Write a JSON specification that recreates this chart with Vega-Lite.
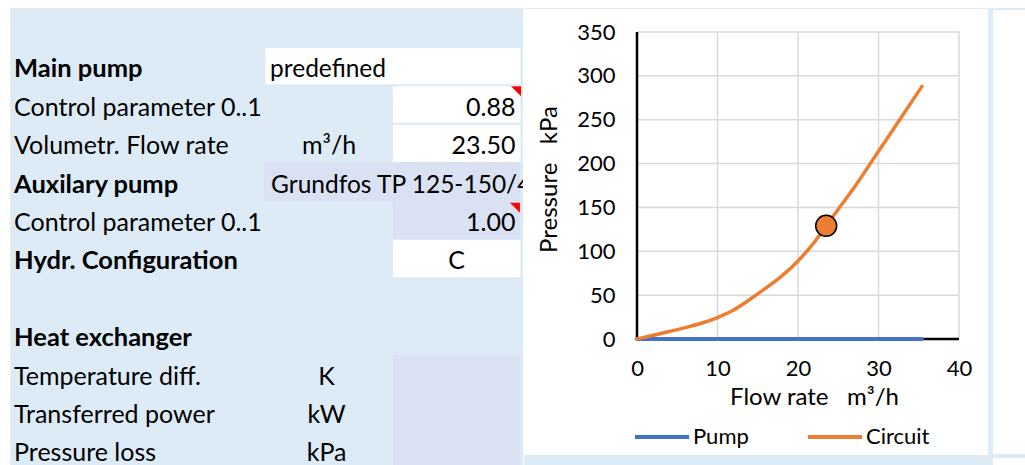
{
  "$schema": "https://vega.github.io/schema/vega-lite/v6.json",
  "background": "white",
  "padding": 0,
  "spacing": 0,
  "config": {"view": {"stroke": null}, "font": "Lato", "concat": {"spacing": 0}},
  "resolve": {"scale": {"color": "independent", "fill": "independent"}, "legend": {"color": "independent", "fill": "independent"}},
  "datasets": {
    "cells": [
      {"kind": "page", "c": -0.08, "c2": 4.02, "r": -0.221, "r2": 11.888},
      {"kind": "sheet", "c": 0, "c2": 4.02, "r": -0.039, "r2": 11.888},
      {"kind": "input", "c": 2.0, "c2": 4.0, "r": 1.0, "r2": 1.95},
      {"kind": "input", "c": 3.0, "c2": 4.0, "r": 2.0, "r2": 2.95},
      {"kind": "input", "c": 3.0, "c2": 4.0, "r": 3.0, "r2": 3.97},
      {"kind": "choice", "c": 1.99, "c2": 4.0, "r": 3.98, "r2": 5.0},
      {"kind": "choice", "c": 3.0, "c2": 4.0, "r": 5.0, "r2": 5.97},
      {"kind": "input", "c": 3.0, "c2": 4.0, "r": 6.0, "r2": 6.97},
      {"kind": "choice", "c": 3.0, "c2": 4.0, "r": 9.0, "r2": 11.888}
    ],
    "texts": [
      {"text": "Main pump", "c": 0.03, "r": 1.766, "role": "head"},
      {"text": "predefined", "c": 2.037, "r": 1.766, "role": "name"},
      {"text": "Control parameter 0..1", "c": 0.03, "r": 2.766, "role": "label"},
      {"text": "0.88", "c": 3.961, "r": 2.766, "role": "num"},
      {"text": "Volumetr. Flow rate", "c": 0.03, "r": 3.766, "role": "label"},
      {"text": "m³/h", "c": 2.5, "r": 3.766, "role": "unit"},
      {"text": "23.50", "c": 3.961, "r": 3.766, "role": "num"},
      {"text": "Auxilary pump", "c": 0.03, "r": 4.766, "role": "head"},
      {"text": "Grundfos TP 125-150/4", "c": 2.045, "r": 4.766, "role": "name"},
      {"text": "Control parameter 0..1", "c": 0.03, "r": 5.766, "role": "label"},
      {"text": "1.00", "c": 3.961, "r": 5.766, "role": "num"},
      {"text": "Hydr. Configuration", "c": 0.03, "r": 6.766, "role": "head"},
      {"text": "C", "c": 3.5, "r": 6.766, "role": "code"},
      {"text": "Heat exchanger", "c": 0.03, "r": 8.766, "role": "head"},
      {"text": "Temperature diff.", "c": 0.03, "r": 9.766, "role": "label"},
      {"text": "K", "c": 2.48, "r": 9.766, "role": "unit"},
      {"text": "Transferred power", "c": 0.03, "r": 10.766, "role": "label"},
      {"text": "kW", "c": 2.48, "r": 10.766, "role": "unit"},
      {"text": "Pressure loss", "c": 0.03, "r": 11.766, "role": "label"},
      {"text": "kPa", "c": 2.48, "r": 11.766, "role": "unit"}
    ],
    "comments": [
      {"c": 3.965, "r": 2.13},
      {"c": 3.957, "r": 5.16}
    ],
    "frame": [
      {"kind": "page", "flow": -14.04, "flow2": 48.32, "pressure": -144.8, "pressure2": 385.4},
      {"kind": "sheet", "flow": -14.04, "flow2": 44.22, "pressure": -144.8, "pressure2": 377.4},
      {"kind": "panel", "flow": -14.04, "flow2": 43.6, "pressure": -132.3, "pressure2": 376.2},
      {"kind": "sheet", "flow": 44.22, "flow2": 48.32, "pressure": 375.1, "pressure2": 377.4},
      {"kind": "sheet", "flow": 44.22, "flow2": 48.32, "pressure": -135.7, "pressure2": -131.1}
    ],
    "guides": [
      {"kind": "grid", "flow": 10, "flow2": 10, "pressure": 0, "pressure2": 350},
      {"kind": "grid", "flow": 20, "flow2": 20, "pressure": 0, "pressure2": 350},
      {"kind": "grid", "flow": 30, "flow2": 30, "pressure": 0, "pressure2": 350},
      {"kind": "grid", "flow": 40, "flow2": 40, "pressure": 0, "pressure2": 350},
      {"kind": "grid", "flow": 0, "flow2": 40, "pressure": 50, "pressure2": 50},
      {"kind": "grid", "flow": 0, "flow2": 40, "pressure": 100, "pressure2": 100},
      {"kind": "grid", "flow": 0, "flow2": 40, "pressure": 150, "pressure2": 150},
      {"kind": "grid", "flow": 0, "flow2": 40, "pressure": 200, "pressure2": 200},
      {"kind": "grid", "flow": 0, "flow2": 40, "pressure": 250, "pressure2": 250},
      {"kind": "grid", "flow": 0, "flow2": 40, "pressure": 300, "pressure2": 300},
      {"kind": "grid", "flow": 0, "flow2": 40, "pressure": 350, "pressure2": 350},
      {"kind": "axis", "flow": 0, "flow2": 0, "pressure": 0, "pressure2": 350},
      {"kind": "axis", "flow": 0, "flow2": 40, "pressure": 0, "pressure2": 0}
    ],
    "curves": [
      {"series": "Pump", "flow": 0, "pressure": 0},
      {"series": "Pump", "flow": 35.4, "pressure": 0},
      {"series": "Circuit", "flow": 0, "pressure": 0},
      {"series": "Circuit", "flow": 2, "pressure": 4.2},
      {"series": "Circuit", "flow": 4, "pressure": 8.5},
      {"series": "Circuit", "flow": 6, "pressure": 13},
      {"series": "Circuit", "flow": 8, "pressure": 18},
      {"series": "Circuit", "flow": 10, "pressure": 24.5},
      {"series": "Circuit", "flow": 12, "pressure": 33},
      {"series": "Circuit", "flow": 14, "pressure": 45},
      {"series": "Circuit", "flow": 16, "pressure": 58},
      {"series": "Circuit", "flow": 18, "pressure": 72},
      {"series": "Circuit", "flow": 20, "pressure": 89},
      {"series": "Circuit", "flow": 22, "pressure": 110},
      {"series": "Circuit", "flow": 23.5, "pressure": 129},
      {"series": "Circuit", "flow": 25, "pressure": 148},
      {"series": "Circuit", "flow": 27, "pressure": 173},
      {"series": "Circuit", "flow": 30, "pressure": 214},
      {"series": "Circuit", "flow": 33, "pressure": 255},
      {"series": "Circuit", "flow": 35.4, "pressure": 288}
    ],
    "operating": [
      {"flow": 23.5, "pressure": 129}
    ]
  },
  "hconcat": [
    {
      "width": 523,
      "height": 434,
      "encoding": {
        "x": {"field": "c", "type": "quantitative", "scale": {"domain": [-0.08, 4.02], "nice": false, "zero": false}, "axis": null},
        "y": {"field": "r", "type": "quantitative", "scale": {"domain": [0.5863, 11.888], "nice": false, "zero": false, "reverse": true}, "axis": null}
      },
      "layer": [
        {
          "data": {"name": "cells"},
          "mark": {"type": "rect", "clip": false},
          "encoding": {
            "x2": {"field": "c2"},
            "y2": {"field": "r2"},
            "fill": {"field": "kind", "type": "nominal", "scale": {"domain": ["page", "sheet", "input", "choice"], "range": ["#FFFFFF", "#DDEBF7", "#FFFFFF", "#D9E1F2"]}, "legend": null}
          }
        },
        {
          "data": {"name": "texts"},
          "transform": [{"filter": "datum.role === 'head'"}],
          "mark": {"type": "text", "align": "left", "baseline": "alphabetic", "font": "Lato", "fontSize": 25.5, "fontWeight": "bold", "color": "#000000"},
          "encoding": {"text": {"field": "text"}}
        },
        {
          "data": {"name": "texts"},
          "transform": [{"filter": "datum.role === 'label'"}],
          "mark": {"type": "text", "align": "left", "baseline": "alphabetic", "font": "Lato", "fontSize": 25, "color": "#000000"},
          "encoding": {"text": {"field": "text"}}
        },
        {
          "data": {"name": "texts"},
          "transform": [{"filter": "datum.role === 'name'"}],
          "mark": {"type": "text", "align": "left", "baseline": "alphabetic", "font": "Lato", "fontSize": 24.5, "color": "#000000", "clip": true},
          "encoding": {"text": {"field": "text"}}
        },
        {
          "data": {"name": "texts"},
          "transform": [{"filter": "datum.role === 'unit' || datum.role === 'code'"}],
          "mark": {"type": "text", "align": "center", "baseline": "alphabetic", "font": "Lato", "fontSize": 25, "color": "#000000"},
          "encoding": {"text": {"field": "text"}}
        },
        {
          "data": {"name": "texts"},
          "transform": [{"filter": "datum.role === 'num'"}],
          "mark": {"type": "text", "align": "right", "baseline": "alphabetic", "font": "Lato", "fontSize": 25, "color": "#000000"},
          "encoding": {"text": {"field": "text"}}
        },
        {
          "data": {"name": "comments"},
          "mark": {"type": "point", "shape": "M -1 -1 L 1 -1 L 1 1 Z", "filled": true, "color": "#FF0000", "size": 100, "opacity": 1, "strokeWidth": 0}
        }
      ]
    },
    {
      "width": 322,
      "height": 307,
      "encoding": {
        "x": {
          "field": "flow", "type": "quantitative",
          "scale": {"domain": [0, 40], "nice": false, "zero": false},
          "axis": {"title": "Flow rate\u00a0\u00a0\u00a0m³/h", "values": [0, 10, 20, 30, 40], "grid": false, "domain": false, "ticks": false, "labelFont": "Lato", "labelFontSize": 22, "labelColor": "#000000", "labelPadding": 19, "labelFlush": false, "labelOverlap": false, "titleFont": "Lato", "titleFontSize": 24, "titleFontWeight": "normal", "titleColor": "#000000", "titleX": 177, "titleY": 58, "titleBaseline": "middle", "titleAlign": "center", "zindex": 1}
        },
        "y": {
          "field": "pressure", "type": "quantitative",
          "scale": {"domain": [0, 350], "nice": false, "zero": false},
          "axis": {"title": "Pressure\u00a0\u00a0\u00a0kPa", "values": [0, 50, 100, 150, 200, 250, 300, 350], "grid": false, "domain": false, "ticks": false, "labelFont": "Lato", "labelFontSize": 22, "labelColor": "#000000", "labelPadding": 22, "labelFlush": false, "labelOverlap": false, "titleFont": "Lato", "titleFontSize": 24, "titleFontWeight": "normal", "titleColor": "#000000", "titleAngle": 270, "titleX": -88, "titleY": 147, "titleBaseline": "middle", "titleAlign": "center", "zindex": 1}
        }
      },
      "layer": [
        {
          "data": {"name": "frame"},
          "mark": {"type": "rect", "clip": false},
          "encoding": {
            "x2": {"field": "flow2"},
            "y2": {"field": "pressure2"},
            "fill": {"field": "kind", "type": "nominal", "scale": {"domain": ["page", "sheet", "panel"], "range": ["#FFFFFF", "#DDEBF7", "#FFFFFF"]}, "legend": null}
          }
        },
        {
          "data": {"name": "guides"},
          "transform": [{"filter": "datum.kind === 'grid'"}],
          "mark": {"type": "rule", "color": "#D9D9D9", "strokeWidth": 1.5},
          "encoding": {"x2": {"field": "flow2"}, "y2": {"field": "pressure2"}}
        },
        {
          "data": {"name": "guides"},
          "transform": [{"filter": "datum.kind === 'axis'"}],
          "mark": {"type": "rule", "color": "#000000", "strokeWidth": 2.5},
          "encoding": {"x2": {"field": "flow2"}, "y2": {"field": "pressure2"}}
        },
        {
          "data": {"name": "curves"},
          "transform": [{"filter": "datum.series === 'Pump'"}],
          "mark": {"type": "line", "strokeWidth": 4, "strokeCap": "round"},
          "encoding": {
            "color": {"field": "series", "type": "nominal", "scale": {"domain": ["Pump", "Circuit"], "range": ["#4472C4", "#ED7D31"]},
              "legend": {"title": null, "orient": "none", "legendX": -4, "legendY": 376, "direction": "horizontal", "symbolType": "stroke", "symbolSize": 2916, "symbolStrokeWidth": 4, "labelFont": "Lato", "labelFontSize": 22, "labelColor": "#000000", "labelOffset": 2, "columnPadding": 51, "padding": 0}}
          }
        },
        {
          "data": {"name": "curves"},
          "transform": [{"filter": "datum.series === 'Circuit'"}],
          "mark": {"type": "line", "strokeWidth": 3.5, "strokeCap": "round", "interpolate": "monotone"},
          "encoding": {
            "color": {"field": "series", "type": "nominal"}
          }
        },
        {
          "data": {"name": "operating"},
          "mark": {"type": "point", "shape": "circle", "filled": true, "size": 441, "color": "#ED7D31", "stroke": "#000000", "strokeWidth": 1.5, "opacity": 1}
        }
      ]
    }
  ]
}
